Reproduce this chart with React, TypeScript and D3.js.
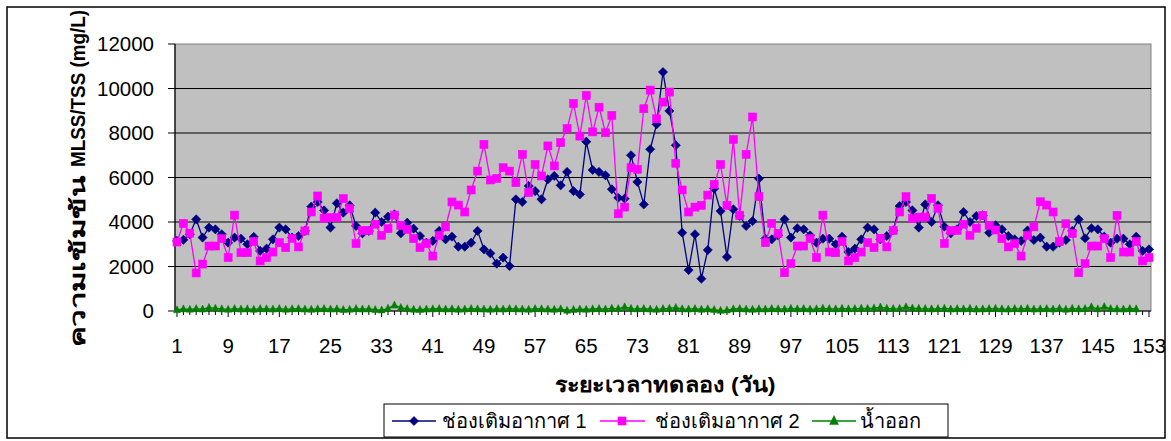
import React from 'react';
import * as d3 from 'd3';

// Experiment days (category axis)
const days: number[] = d3.range(1, 154);
const xTickLabels: number[] = [1, 9, 17, 25, 33, 41, 49, 57, 65, 73, 81, 89, 97, 105, 113, 121, 129, 137, 145, 153];
const yTicks: number[] = [0, 2000, 4000, 6000, 8000, 10000, 12000];

const seriesNames = ['ช่องเติมอากาศ 1', 'ช่องเติมอากาศ 2', 'น้ำออก'];

// MLSS, aeration tank 1 (mg/L)
const tank1: number[] = [
  3150, 3200, 3450, 4120, 3300, 3750, 3670, 3450, 3070, 3300,
  3250, 3000, 3330, 2700, 2800, 3220, 3750, 3670, 3300, 3370,
  3600, 4690, 4900, 4520, 3750, 4840, 4420, 4750, 3820, 3490,
  3600, 4420, 4000, 4240, 4340, 3490, 3970, 3700, 3370, 3070,
  3150, 3600, 3220, 3340, 2890, 2890, 3070, 3600, 2770, 2590,
  2130, 2400, 2020, 5020, 4900, 5620, 5390, 5020, 5920, 6070,
  5650, 6250, 5390, 5240, 7610, 6340, 6250, 6100, 5470, 5090,
  5050, 7000, 5800, 4790, 7270, 8390, 10740, 8990, 7450, 3520,
  1840, 3450, 1450, 2740, 5500, 4490, 2430, 4570, 4270, 3820,
  4040, 5950, 3250, 3220, 3400, 4120, 3300, 3720, 3670, 3400,
  3070, 3250, 3250, 3000, 3340, 2650, 2800, 3220, 3750, 3670,
  3220, 3370, 3620, 4720, 4900, 4520, 3750, 4790, 4000, 4750,
  3790, 3490, 3670, 4450, 4000, 4270, 4300, 3520, 3850, 3670,
  3370, 3220, 3150, 3620, 3190, 3300, 2890, 2890, 3070, 3190,
  3600, 4120, 3270, 3720, 3670, 3340, 3070, 3250, 3250, 3000,
  3340, 2700, 2770,
];

// MLSS, aeration tank 2 (mg/L)
const tank2: number[] = [
  3100, 3940, 3500, 1710, 2110, 2920, 2920, 3250, 2400, 4310,
  2620, 2620, 3120, 2250, 2400, 2650, 3070, 2850, 3270, 2880,
  3600, 4450, 5170, 4170, 4200, 4200, 5050, 4610, 3030, 3620,
  3620, 3900, 3400, 3700, 4310, 3850, 3670, 3250, 2850, 3030,
  2470, 3400, 3780, 4900, 4760, 4450, 5440, 6290, 7490, 5890,
  5960, 6440, 6290, 5770, 7040, 5320, 6590, 6070, 7420, 6520,
  7570, 8200, 9330, 7860, 9690, 8050, 9160, 8010, 8790, 4370,
  4670, 6440, 6370, 9090, 9930, 8640, 9390, 9840, 6640, 5440,
  4450, 4670, 4750, 5210, 5690, 6590, 4750, 7710, 4300, 7040,
  8720, 5140, 3070, 3940, 3490, 1720, 2130, 2920, 2920, 3250,
  2400, 4310, 2650, 2620, 3120, 2250, 2400, 2650, 3070, 2850,
  3270, 2880, 3620, 4450, 5140, 4150, 4220, 4220, 5060, 4610,
  3030, 3620, 3620, 3900, 3400, 3720, 4300, 3850, 3640, 3250,
  2880, 3030, 2470, 3400, 3780, 4910, 4760, 4450, 3120, 3920,
  3480, 1720, 2130, 2920, 2920, 3250, 2400, 4300, 2650, 2650,
  3120, 2250, 2400,
];

// TSS, effluent (mg/L)
const effluent: number[] = [
  50, 90, 70, 100, 80, 150, 120, 90, 70, 100,
  80, 90, 70, 100, 90, 80, 100, 70, 90, 100,
  80, 70, 90, 100, 80, 90, 60, 70, 100, 80,
  90, 60, 40, 120, 260, 150, 100, 70, 60, 80,
  90, 100, 80, 90, 70, 80, 100, 90, 80, 70,
  90, 80, 100, 90, 80, 70, 100, 90, 80, 70,
  90, 30, 60, 80, 70, 90, 100, 80, 120, 100,
  180, 110, 90, 100, 80, 70, 100, 120, 150, 90,
  80, 100, 70, 90, 60, 20, 40, 90, 100, 80,
  70, 90, 80, 100, 90, 80, 110, 90, 100, 80,
  90, 120, 100, 90, 110, 90, 100, 120, 110, 130,
  170, 120, 100, 110, 180, 130, 110, 100, 90, 100,
  120, 80, 100, 90, 110, 80, 90, 100, 110, 90,
  80, 100, 90, 110, 80, 90, 100, 80, 120, 70,
  110, 90, 100, 180, 90, 190, 100, 90, 80, 100,
  90,
];

const W = 1171;
const H = 441;
const plot = { left: 175, right: 1151, top: 44, bottom: 311 };
const FONT = "'Liberation Sans', Arial, 'Noto Sans', sans-serif";

const x = d3.scaleLinear().domain([1, 153]).range([177, 1149]);
const y = d3.scaleLinear().domain([0, 12000]).range([plot.bottom, plot.top]);

const BLUE = '#000080';
const PINK = '#FF00FF';
const GREEN = '#008000';

function linePath(vals: number[]): string {
  const gen = d3
    .line<number>()
    .x((_, i) => x(days[i]))
    .y((v) => y(v));
  return gen(vals) || '';
}

const Diamond = ({ cx, cy, r = 4.6 }: { cx: number; cy: number; r?: number }) => (
  <polygon points={`${cx},${cy - r} ${cx + r},${cy} ${cx},${cy + r} ${cx - r},${cy}`} fill={BLUE} stroke={BLUE} strokeWidth={0.6} />
);
const Square = ({ cx, cy, s = 8 }: { cx: number; cy: number; s?: number }) => (
  <rect x={cx - s / 2} y={cy - s / 2} width={s} height={s} fill={PINK} stroke={PINK} strokeWidth={0.6} />
);
const Triangle = ({ cx, cy, s = 7 }: { cx: number; cy: number; s?: number }) => (
  <polygon points={`${cx},${cy - s * 0.6} ${cx + s / 2},${cy + s * 0.4} ${cx - s / 2},${cy + s * 0.4}`} fill={GREEN} stroke={GREEN} strokeWidth={0.5} />
);

export default function App() {
  return (
    <svg
      width={W}
      height={H}
      style={{ position: 'absolute', left: 0, top: 0, background: '#fff' }}
      fontFamily={FONT}
    >
      {/* chart frame */}
      <rect x={7} y={7} width={1158} height={431} fill="#fff" stroke="#000" strokeWidth={1.5} />

      {/* plot area */}
      <rect x={plot.left} y={plot.top} width={plot.right - plot.left} height={plot.bottom - plot.top} fill="#C0C0C0" stroke="#808080" strokeWidth={1} />

      {/* horizontal gridlines */}
      {yTicks.slice(1, -1).map((t) => (
        <line key={'g' + t} x1={plot.left} x2={plot.right} y1={y(t)} y2={y(t)} stroke="#000" strokeWidth={1} />
      ))}

      {/* y axis */}
      <line x1={plot.left} x2={plot.left} y1={plot.top} y2={plot.bottom} stroke="#000" strokeWidth={1.2} />
      {yTicks.map((t) => (
        <g key={'y' + t}>
          <line x1={plot.left - 7} x2={plot.left} y1={y(t)} y2={y(t)} stroke="#000" strokeWidth={1} />
          <text x={154} y={y(t)} dy="0.35em" textAnchor="end" fontSize={20.5} fill="#000">
            {t}
          </text>
        </g>
      ))}

      {/* x axis */}
      <line x1={plot.left} x2={plot.right} y1={plot.bottom} y2={plot.bottom} stroke="#000" strokeWidth={1.2} />
      {days.map((d) => (
        <line key={'xt' + d} x1={x(d)} x2={x(d)} y1={plot.bottom} y2={plot.bottom + (xTickLabels.includes(d) ? 6 : 4)} stroke="#000" strokeWidth={1} />
      ))}
      {xTickLabels.map((d) => (
        <text key={'xl' + d} x={x(d)} y={353} textAnchor="middle" fontSize={20.5} fill="#000">
          {d}
        </text>
      ))}

      {/* axis titles */}
      <text x={665} y={392} textAnchor="middle" fontSize={21} fontWeight="bold" fill="#000" textLength={221} lengthAdjust="spacingAndGlyphs">
        ระยะเวลาทดลอง (วัน)
      </text>
      <g transform="translate(85,0) rotate(-90)">
        <text x={-347} y={0} textAnchor="start" fontSize={20} fontWeight="bold" fill="#000" textLength={172} lengthAdjust="spacingAndGlyphs">
          ความเข้มข้น
        </text>
        <text x={-167} y={0} textAnchor="start" fontSize={19.5} fontWeight={700} fill="#000" textLength={157} lengthAdjust="spacingAndGlyphs">
          MLSS/TSS (mg/L)
        </text>
      </g>

      {/* series */}
      <path d={linePath(tank1)} fill="none" stroke={BLUE} strokeWidth={1.3} />
      {tank1.map((v, i) => (
        <Diamond key={'b' + i} cx={x(days[i])} cy={y(v)} />
      ))}
      <path d={linePath(tank2)} fill="none" stroke={PINK} strokeWidth={1.3} />
      {tank2.map((v, i) => (
        <Square key={'p' + i} cx={x(days[i])} cy={y(v)} />
      ))}
      <path d={linePath(effluent)} fill="none" stroke={GREEN} strokeWidth={1.3} />
      {effluent.map((v, i) => (
        <Triangle key={'t' + i} cx={x(days[i])} cy={y(v)} />
      ))}

      {/* legend */}
      <g>
        <rect x={384} y={404} width={564} height={33} fill="#fff" stroke="#000" strokeWidth={1} />
        <line x1={392} x2={436} y1={421} y2={421} stroke={BLUE} strokeWidth={1.3} />
        <Diamond cx={414} cy={421} />
        <text x={442} y={428} fontSize={20} fill="#000">{seriesNames[0]}</text>
        <line x1={600} x2={645} y1={421} y2={421} stroke={PINK} strokeWidth={1.3} />
        <Square cx={622} cy={421} />
        <text x={655} y={428} fontSize={20} fill="#000">{seriesNames[1]}</text>
        <line x1={812} x2={856} y1={421} y2={421} stroke={GREEN} strokeWidth={1.3} />
        <Triangle cx={834} cy={421} s={9} />
        <text x={860} y={428} fontSize={20} fill="#000">{seriesNames[2]}</text>
      </g>
    </svg>
  );
}
